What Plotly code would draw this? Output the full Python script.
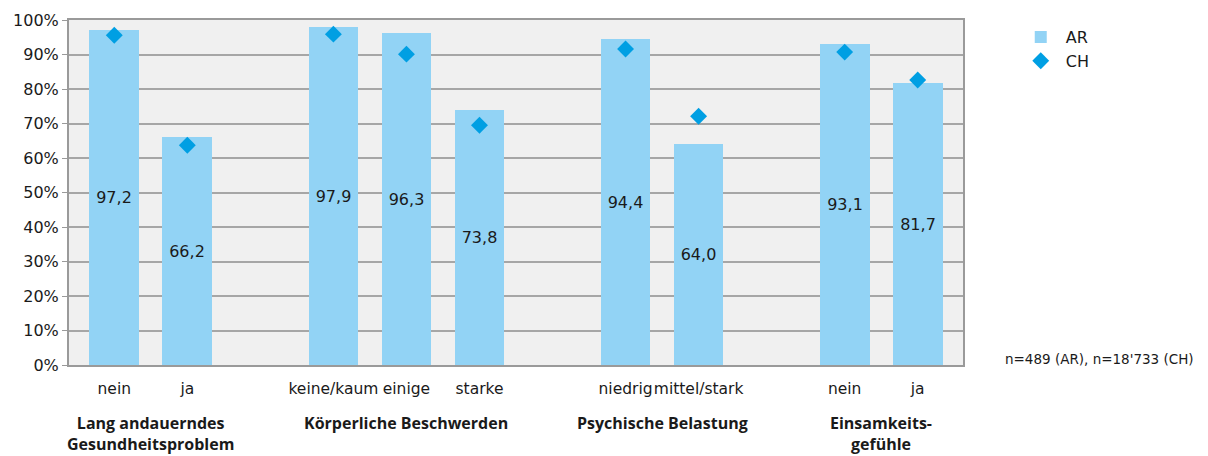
import plotly.graph_objects as go

# data
groups = ["Lang andauerndes<br>Gesundheitsproblem", "Körperliche Beschwerden",
          "Psychische Belastung", "Einsamkeits-<br>gefühle"]
categories = [["nein", "ja"], ["keine/kaum", "einige", "starke"],
              ["niedrig", "mittel/stark"], ["nein", "ja"]]
ar_values = [97.2, 66.2, 97.9, 96.3, 73.8, 94.4, 64.0, 93.1, 81.7]
ch_values = [95.6, 63.7, 95.9, 90.1, 69.5, 91.6, 72.1, 90.7, 82.6]
y_ticks = list(range(0, 101, 10))

# x positions: one empty slot between groups
x_pos, x_text, group_centers = [], [], []
pos = 0
for cats in categories:
    start = pos
    for c in cats:
        x_pos.append(pos)
        x_text.append(c)
        pos += 1
    group_centers.append((start + pos - 1) / 2)
    pos += 1

FONT = "DejaVu Sans"
BOLD = "Open Sans"

fig = go.Figure()
fig.add_trace(go.Bar(
    x=x_pos, y=ar_values, name="AR", width=0.68,
    marker=dict(color="#92d3f5", line=dict(width=0)),
    text=[f"{v:.1f}".replace(".", ",") for v in ar_values],
    textposition="inside", insidetextanchor="middle",
    textfont=dict(size=16, color="#1a1a1a", family=FONT),
    hoverinfo="skip",
))
fig.add_trace(go.Scatter(
    x=x_pos, y=ch_values, name="CH", mode="markers",
    marker=dict(symbol="diamond", size=13, color="#009fe3"),
    hoverinfo="skip",
))

for gx, g in zip(group_centers, groups):
    fig.add_annotation(x=gx, y=-0.13, xref="x", yref="paper", text=f"<b>{g}</b>",
                       showarrow=False, yanchor="top", align="center",
                       font=dict(size=16, color="#1a1a1a", family=BOLD))

fig.add_annotation(x=1.0, y=0.018, xref="paper", yref="paper",
                   text="n=489 (AR), n=18'733 (CH)", showarrow=False,
                   xanchor="left", yanchor="middle", xshift=40,
                   font=dict(size=13.5, color="#1a1a1a", family=FONT))

# page body has an 8px margin, so the figure is 8px smaller and offset
fig.update_layout(
    width=1200, height=448,
    margin=dict(l=61, r=245, t=12, b=91),
    paper_bgcolor="white", plot_bgcolor="#f0f0f0",
    font=dict(family=FONT, size=15, color="#1a1a1a"),
    bargap=0,
    legend=dict(x=1.059, y=1.0, xanchor="left", yanchor="top",
                font=dict(size=16, family=FONT), itemwidth=40),
    showlegend=True,
)
fig.update_xaxes(
    tickmode="array", tickvals=x_pos, ticktext=x_text,
    range=[-0.62, pos - 1 - 1 + 0.62], showgrid=False,
    showline=True, linecolor="#9a9a9a", linewidth=2, mirror=True,
    ticks="", ticklabelstandoff=8, tickangle=0,
    tickfont=dict(size=15.5, family=FONT), zeroline=False,
    automargin=False,
)
fig.update_yaxes(
    range=[0, 100], tickvals=y_ticks, ticktext=[f"{t}%" for t in y_ticks],
    showgrid=True, gridcolor="#a6a6a6", gridwidth=1.5,
    showline=True, linecolor="#9a9a9a", linewidth=2, mirror=True,
    ticks="outside", ticklen=5, tickcolor="#9a9a9a",
    tickfont=dict(size=16, family=FONT), zeroline=False,
    automargin=False,
)

fig.write_html("out.html")
